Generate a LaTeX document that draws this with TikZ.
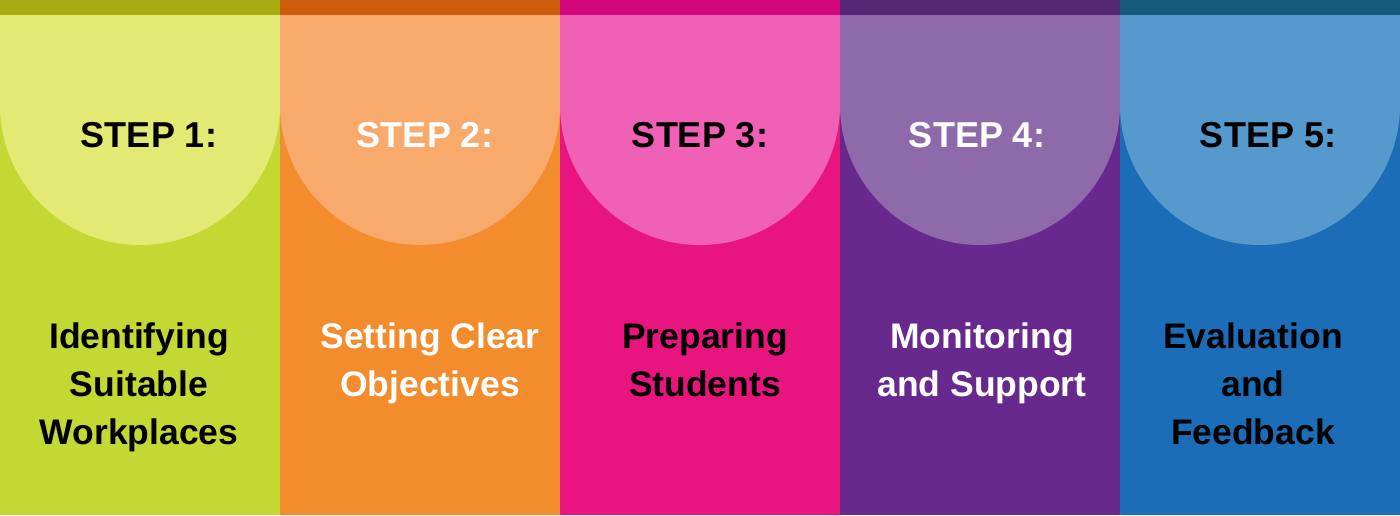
\documentclass[tikz,border=0pt]{standalone}
\usepackage{fontspec}
\setmainfont{Liberation Sans}
\definecolor{bandA}{HTML}{A7AA10}
\definecolor{lightA}{HTML}{E2EA73}
\definecolor{baseA}{HTML}{C4D834}
\definecolor{bandB}{HTML}{CE5C0A}
\definecolor{lightB}{HTML}{F8AA6C}
\definecolor{baseB}{HTML}{F28C2C}
\definecolor{bandC}{HTML}{D3067E}
\definecolor{lightC}{HTML}{F061B5}
\definecolor{baseC}{HTML}{E8157F}
\definecolor{bandD}{HTML}{542777}
\definecolor{lightD}{HTML}{8F6AAA}
\definecolor{baseD}{HTML}{67298D}
\definecolor{bandE}{HTML}{15597B}
\definecolor{lightE}{HTML}{5699CD}
\definecolor{baseE}{HTML}{1A6DB6}
\tikzset{
  steplabel/.style={anchor=base,inner sep=0pt,font=\fontsize{36}{40}\selectfont\bfseries},
  stepbody/.style={anchor=north,inner sep=0pt,align=center,font=\fontsize{35.5}{48}\selectfont\bfseries}
}
\begin{document}
\begin{tikzpicture}[x=1pt,y=-1pt]
      \useasboundingbox (0,0) rectangle (1400,515);
      % columns
      \fill[baseA] (0,0) rectangle (280,515);
      \fill[baseB] (280,0) rectangle (560,515);
      \fill[baseC] (560,0) rectangle (840,515);
      \fill[baseD] (840,0) rectangle (1120,515);
      \fill[baseE] (1120,0) rectangle (1400,515);
      % half discs
      \fill[lightA] (0,15) -- (0,105) arc[start angle=180,end angle=0,radius=140] -- (280,15) -- cycle;
      \fill[lightB] (280,15) -- (280,105) arc[start angle=180,end angle=0,radius=140] -- (560,15) -- cycle;
      \fill[lightC] (560,15) -- (560,105) arc[start angle=180,end angle=0,radius=140] -- (840,15) -- cycle;
      \fill[lightD] (840,15) -- (840,105) arc[start angle=180,end angle=0,radius=140] -- (1120,15) -- cycle;
      \fill[lightE] (1120,15) -- (1120,105) arc[start angle=180,end angle=0,radius=140] -- (1400,15) -- cycle;
      % top bands
      \fill[bandA] (0,0) rectangle (280,15);
      \fill[bandB] (280,0) rectangle (560,15);
      \fill[bandC] (560,0) rectangle (840,15);
      \fill[bandD] (840,0) rectangle (1120,15);
      \fill[bandE] (1120,0) rectangle (1400,15);
      % labels
      \draw
        (149,147) node[steplabel,black] (s1){STEP 1:}
        (425,147) node[steplabel,white] (s2){STEP 2:}
        (700,147) node[steplabel,black] (s3){STEP 3:}
        (977,147) node[steplabel,white] (s4){STEP 4:}
        (1268,147) node[steplabel,black] (s5){STEP 5:};
      \draw
        (139,323) node[stepbody,black] (t1){Identifying\\Suitable\\Workplaces}
        (430,323) node[stepbody,white] (t2){Setting Clear\\Objectives}
        (705,323) node[stepbody,black] (t3){Preparing\\Students}
        (982,323) node[stepbody,white] (t4){Monitoring\\and Support}
        (1253,323) node[stepbody,black] (t5){Evaluation\\and\\Feedback};
    \end{tikzpicture}
\end{document}
